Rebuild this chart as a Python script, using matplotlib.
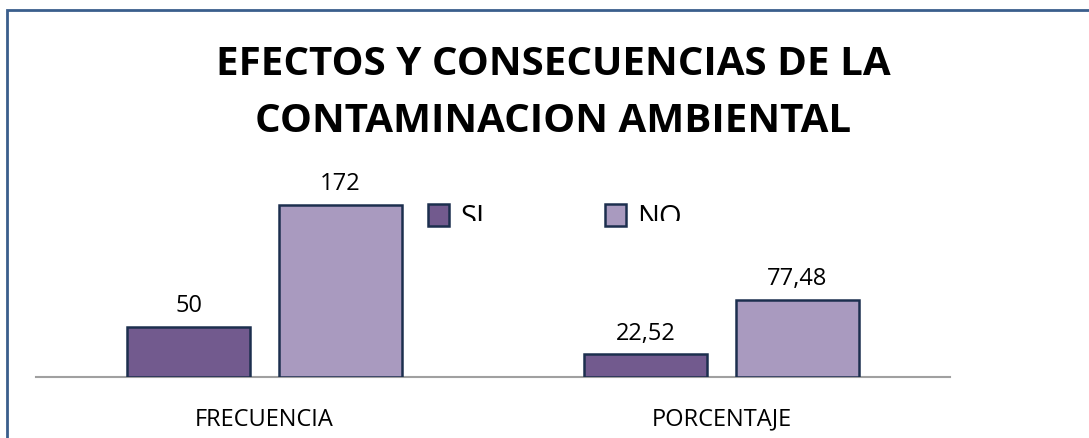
import matplotlib.pyplot as plt
import numpy as np
from matplotlib.patches import Rectangle

categorias = ['FRECUENCIA', 'PORCENTAJE']
si = [50, 22.52]
no = [172, 77.48]
etiquetas_si = ['50', '22,52']
etiquetas_no = ['172', '77,48']

W, H = 1089, 439
fig = plt.figure(figsize=(W/100, H/100), dpi=100)
ax = fig.add_axes([36/W, 1 - 378/H, 914/W, 200/H])

x = np.arange(len(categorias))
ancho = 0.27
b1 = ax.bar(x - 0.166, si, ancho, color='#725A8E', edgecolor='#1C2F4E', linewidth=1.8, label='SI', zorder=3)
b2 = ax.bar(x + 0.166, no, ancho, color='#A99ABF', edgecolor='#1C2F4E', linewidth=1.8, label='NO', zorder=3)

for barras, textos in [(b1, etiquetas_si), (b2, etiquetas_no)]:
    for barra, txt in zip(barras, textos):
        ax.annotate(txt, (barra.get_x() + barra.get_width()/2, barra.get_height()),
                    xytext=(0, 7), textcoords='offset points', ha='center', va='bottom',
                    fontsize=17, family='Open Sans')

ax.set_xlim(-0.5, 1.5)
ax.set_ylim(0, 200)
ax.set_xticks(x)
ax.set_xticklabels(categorias, fontsize=17, family='Open Sans')
ax.tick_params(axis='x', length=0, pad=21.5)
ax.set_yticks([])
for s in ['top', 'left', 'right']:
    ax.spines[s].set_visible(False)
ax.spines['bottom'].set_color('#A0A0A0')
ax.spines['bottom'].set_linewidth(1.5)
ax.patch.set_alpha(0)

# borde del grafico
fig.patches.append(Rectangle((7/W, -0.1), 1.2, 1 - 11/H + 0.1, transform=fig.transFigure,
                             fill=False, edgecolor='#3A5E8C', linewidth=2))

fig.text(553/W, 1 - 93/H, 'EFECTOS Y CONSECUENCIAS DE LA\nCONTAMINACION AMBIENTAL',
         ha='center', va='center', fontsize=29, fontweight='bold', family='Open Sans',
         linespacing=1.62)

leg = ax.legend(loc='upper left', bbox_to_anchor=(428/W, 1 - 204/H), bbox_transform=fig.transFigure,
                ncol=2, frameon=False, handlelength=0.72, handleheight=0.75, columnspacing=4.1,
                handletextpad=0.4, borderpad=0, borderaxespad=0,
                prop={'family': 'Open Sans', 'size': 21})

# la leyenda aparece recortada por abajo en el original
for x0, x1 in [(453, 600), (632, 720)]:
    fig.patches.append(Rectangle((x0/W, 1 - 234/H), (x1 - x0)/W, 12/H, transform=fig.transFigure,
                                 facecolor='white', edgecolor='none', zorder=10))

fig.savefig('out.png', dpi=100)
